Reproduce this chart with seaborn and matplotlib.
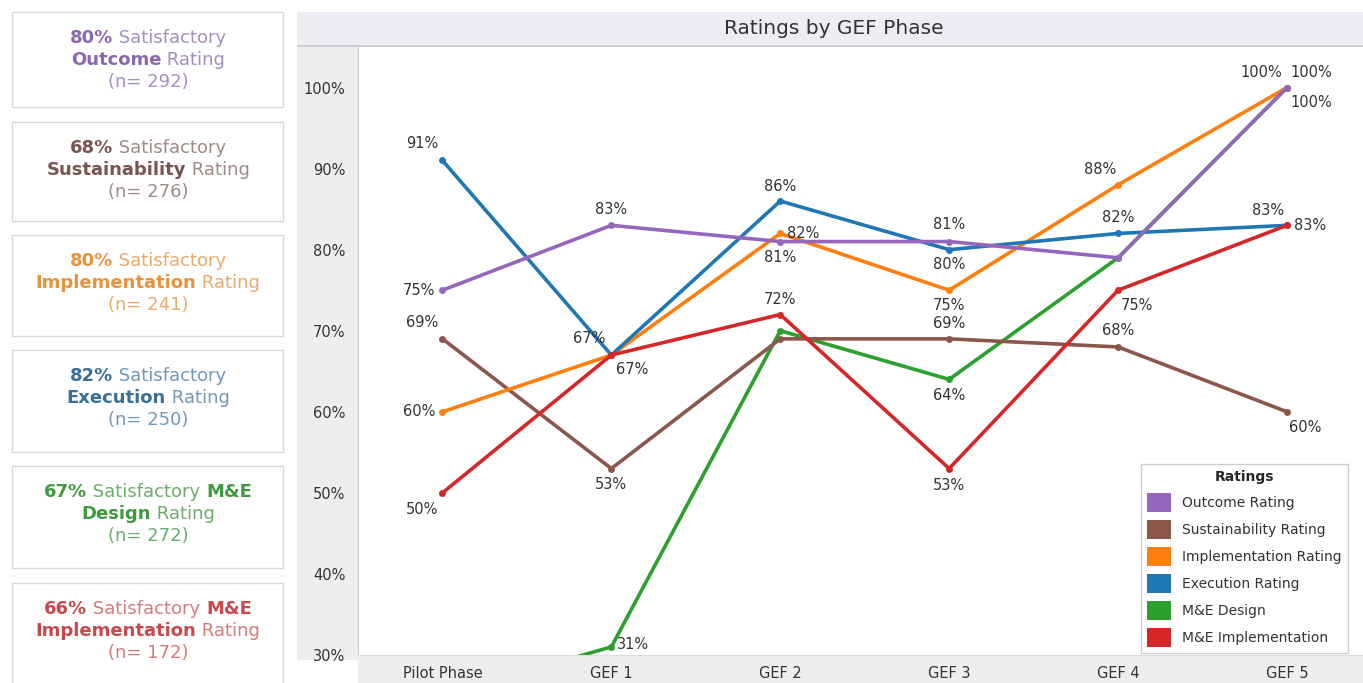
import numpy as np
import pandas as pd
import matplotlib
matplotlib.use("Agg")
import matplotlib.pyplot as plt
from matplotlib.patches import Rectangle, Patch
import seaborn as sns

# Data
phases = ["Pilot Phase", "GEF 1", "GEF 2", "GEF 3", "GEF 4", "GEF 5"]
ratings = ["Outcome Rating", "Sustainability Rating", "Implementation Rating",
           "Execution Rating", "M&E Design", "M&E Implementation"]
outcome = [75, 83, 81, 81, 79, 100]
sustainability = [69, 53, 69, 69, 68, 60]
implementation = [60, 67, 82, 75, 88, 100]
execution = [91, 67, 86, 80, 82, 83]
me_design = [25, 31, 70, 64, 79, 100]
me_implementation = [50, 67, 72, 53, 75, 83]

summary_pct = [80, 68, 80, 82, 67, 66]
summary_n = [292, 276, 241, 250, 272, 172]

colors = ["#9467bd", "#8c564b", "#ff7f0e", "#1f77b4", "#2ca02c", "#d62728"]
dark = ["#8a68ad", "#7a544e", "#e8923c", "#3b6f98", "#3f9a3f", "#c9484b"]
light = ["#a58fc0", "#9e8a88", "#e8aa6c", "#6f98b9", "#6aae6a", "#d47b7d"]

series = [outcome, sustainability, implementation, execution, me_design, me_implementation]
draw_order = [4, 1, 2, 3, 5, 0]
df = pd.DataFrame({
    "pos": list(range(len(phases))) * len(ratings),
    "value": [v for i in draw_order for v in series[i]],
    "rating": [ratings[i] for i in draw_order for _ in phases],
})

# which labels show, with pixel offsets (series index, phase index, dx, dy, ha)
labels = [
    (3, 0, -20, 17, "center"), (0, 0, -7, 0, "right"), (1, 0, -20, 16, "center"),
    (2, 0, -7, 0, "right"), (5, 0, -20, -17, "center"),
    (0, 1, 0, 16, "center"), (3, 1, -22, 17, "center"), (2, 1, 21, -14, "center"),
    (1, 1, 0, -16, "center"), (4, 1, 22, 2, "center"),
    (3, 2, 0, 15, "center"), (2, 2, 7, 0, "left"), (0, 2, 0, -16, "center"),
    (5, 2, 0, 15, "center"),
    (0, 3, 0, 17, "center"), (3, 3, 0, -15, "center"), (2, 3, 0, -15, "center"),
    (1, 3, 0, 15, "center"), (4, 3, 0, -16, "center"), (5, 3, 0, -17, "center"),
    (2, 4, -18, 15, "center"), (3, 4, 0, 16, "center"), (5, 4, 19, -15, "center"),
    (1, 4, 0, 16, "center"),
    (2, 5, -26, 15, "center"), (0, 5, 24, 15, "center"), (4, 5, 24, -15, "center"),
    (3, 5, -19, 15, "center"), (5, 5, 7, 0, "left"), (1, 5, 18, -16, "center"),
]

W, H = 1363, 683
sns.set_style("white")
plt.rcParams["font.family"] = ["DejaVu Sans"]

fig = plt.figure(figsize=(W / 100, H / 100), dpi=100)
fig.patch.set_facecolor("white")


def px_rect(x0, y0, x1, y1, **kw):
    r = Rectangle((x0 / W, 1 - y1 / H), (x1 - x0) / W, (y1 - y0) / H,
                  transform=fig.transFigure, **kw)
    fig.add_artist(r)
    return r


# chart backgrounds
px_rect(297, 12, W, 45, facecolor="#eceef3", edgecolor="none", zorder=0)
px_rect(297, 45, W, 47, facecolor="#cfd0d4", edgecolor="none", zorder=0)
px_rect(297, 47, 358, 660, facecolor="#eeeeee", edgecolor="none", zorder=0)
px_rect(358, 655, W, H, facecolor="#eeeeee", edgecolor="none", zorder=0)
fig.text(834 / W, 1 - 29 / H, "Ratings by GEF Phase", ha="center", va="center",
         fontsize=14.5, color="#333333")

ax = fig.add_axes([358 / W, (H - 655) / H, (W - 358) / W, 608 / H])
ax.set_facecolor("white")

sns.lineplot(data=df, x="pos", y="value", hue="rating",
             palette=dict(zip(ratings, colors)), marker="o", markersize=5,
             markeredgewidth=0, linewidth=2.6, sort=False, legend=False, ax=ax)

for si, pi, dx, dy, ha in labels:
    ax.annotate(f"{series[si][pi]}%", xy=(pi, series[si][pi]), xytext=(dx, dy),
                textcoords="offset pixels", ha=ha, va="center", fontsize=10.5,
                color="#333333", zorder=5)

ax.set_xlim(-0.5, 5.45)
ax.set_ylim(30, 105)
ax.set_yticks(range(30, 101, 10))
ax.set_yticklabels([f"{t}%" for t in range(30, 101, 10)])
ax.set_xticks(range(len(phases)))
ax.set_xticklabels(phases)
ax.set_xticks(np.arange(0.5, 5, 1), minor=True)
ax.tick_params(axis="y", length=6, color="#888888", labelsize=10.5, labelcolor="#333333", pad=3)
ax.tick_params(axis="x", which="major", length=0, labelsize=10.5, labelcolor="#333333", pad=8)
ax.tick_params(axis="x", which="minor", length=4, color="#777777", direction="in")
ax.set_xlabel("")
ax.set_ylabel("")
for s in ["top", "right"]:
    ax.spines[s].set_visible(False)
ax.spines["left"].set_color("#c8c8c8")
ax.spines["bottom"].set_color("#dddddd")

handles = [Patch(facecolor=c, edgecolor="none", label=r) for c, r in zip(colors, ratings)]
leg = ax.legend(handles=handles, title="Ratings", loc="lower right",
                bbox_to_anchor=(0.985, 0.003), fontsize=10, frameon=True,
                fancybox=False, edgecolor="#cccccc", framealpha=1,
                handlelength=1.7, handleheight=1.7, labelspacing=0.6,
                handletextpad=0.8, borderpad=0.45, borderaxespad=0)
leg.get_title().set_fontweight("bold")
leg.get_title().set_fontsize(10)
for t in leg.get_texts():
    t.set_color("#333333")

# left summary boxes
box_tops = [12, 122, 235, 350, 466, 583]
box_bots = [107, 221, 336, 452, 568, 690]
names = [
    [[("80%", 1), (" Satisfactory", 0)], [("Outcome", 1), (" Rating", 0)]],
    [[("68%", 1), (" Satisfactory", 0)], [("Sustainability", 1), (" Rating", 0)]],
    [[("80%", 1), (" Satisfactory", 0)], [("Implementation", 1), (" Rating", 0)]],
    [[("82%", 1), (" Satisfactory", 0)], [("Execution", 1), (" Rating", 0)]],
    [[("67%", 1), (" Satisfactory ", 0), ("M&E", 1)], [("Design", 1), (" Rating", 0)]],
    [[("66%", 1), (" Satisfactory ", 0), ("M&E", 1)], [("Implementation", 1), (" Rating", 0)]],
]
renderer = fig.canvas.get_renderer()


def rich_line(cx, cy, parts, dcol, pcol, size=13):
    texts = []
    for s, bold in parts:
        t = fig.text(0, 1 - cy / H, s, fontsize=size, va="center", ha="left",
                     fontweight="bold" if bold else "normal",
                     color=dcol if bold else pcol)
        texts.append(t)
    widths = [t.get_window_extent(renderer).width for t in texts]
    x = cx - sum(widths) / 2
    for t, w in zip(texts, widths):
        t.set_x(x / W)
        x += w


for i in range(6):
    px_rect(12, box_tops[i], 283, box_bots[i], facecolor="white",
            edgecolor="#d9d9d9", linewidth=1, zorder=1)
    top = box_tops[i]
    cx = 148
    names[i][0][0] = (f"{summary_pct[i]}%", 1)
    rich_line(cx, top + 26, names[i][0], dark[i], light[i])
    rich_line(cx, top + 48, names[i][1], dark[i], light[i])
    rich_line(cx, top + 70, [(f"(n= {summary_n[i]})", 0)], dark[i], light[i])

fig.savefig("out.png", dpi=100)
